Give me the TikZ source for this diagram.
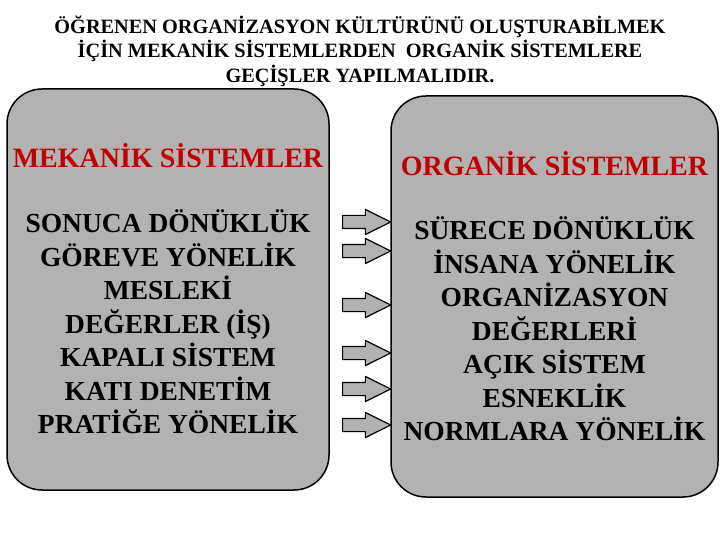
\documentclass[tikz,border=0pt]{standalone}
\usepackage{fontspec}
\setmainfont{Liberation Serif}
\usetikzlibrary{shapes.arrows}
\definecolor{boxgray}{RGB}{178,178,178}
\definecolor{headred}{RGB}{192,0,0}

\begin{document}
\begin{tikzpicture}[line cap=round,line join=round,x=1pt,y=-1pt]
\tikzset{
  sysbox/.style={draw=black,line width=1.5pt,fill=boxgray,rounded corners=35pt},
  titletxt/.style={font=\fontsize{20.3}{24.5}\selectfont\bfseries,align=center,inner sep=0pt},
  headtxt/.style={text=headred,font=\fontsize{28}{30}\selectfont\bfseries,inner sep=0pt},
  bodytxt/.style={font=\fontsize{27.5}{33.5}\selectfont\bfseries,align=center,inner sep=0pt},
  passarrow/.style={single arrow,draw=black,line width=1.2pt,fill=boxgray,
    minimum height=48pt,inner xsep=0pt,inner ysep=6pt,single arrow head extend=6pt,
    single arrow tip angle=53}
}
\useasboundingbox (0,0) rectangle (720,540);

\node[titletxt] (title) at (360,51) {ÖĞRENEN ORGANİZASYON KÜLTÜRÜNÜ OLUŞTURABİLMEK\\
  İÇİN MEKANİK SİSTEMLERDEN\ \ ORGANİK SİSTEMLERE\\
  GEÇİŞLER YAPILMALIDIR.};

%% iki sistem
\node[sysbox,minimum width=322pt,minimum height=401pt] (mekanik) at (168,289.5) {};
\node[sysbox,minimum width=327pt,minimum height=401pt] (organik) at (554.5,296.5) {};

\node[headtxt] (mekbaslik) at (168,155.5) {MEKANİK SİSTEMLER};
\node[headtxt] (orgbaslik) at (554.5,164) {ORGANİK SİSTEMLER};

\node[bodytxt] (mekliste) at (168,322) {SONUCA DÖNÜKLÜK\\GÖREVE YÖNELİK\\MESLEKİ\\
  DEĞERLER (İŞ)\\KAPALI SİSTEM\\KATI DENETİM\\PRATİĞE YÖNELİK};
\node[bodytxt] (orgliste) at (554.5,329) {SÜRECE DÖNÜKLÜK\\İNSANA YÖNELİK\\ORGANİZASYON\\
  DEĞERLERİ\\AÇIK SİSTEM\\ESNEKLİK\\NORMLARA YÖNELİK};

%% geçiş okları
\node[passarrow] (ok1) at (360,222) {};
\node[passarrow] (ok2) at (360,251) {};
\node[passarrow] (ok3) at (360,305) {};
\node[passarrow] (ok4) at (360,353) {};
\node[passarrow] (ok5) at (360,389) {};
\node[passarrow] (ok6) at (360,425) {};
\end{tikzpicture}
\end{document}
